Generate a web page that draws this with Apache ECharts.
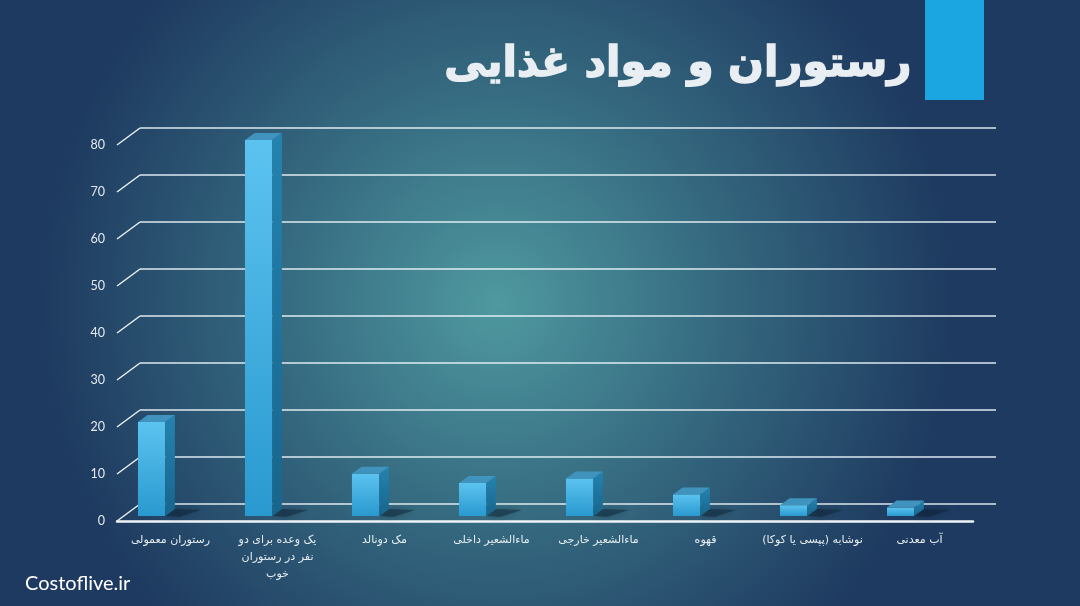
<!DOCTYPE html>
<html>
<head>
<meta charset="utf-8">
<script src="https://cdn.jsdelivr.net/npm/echarts@6/dist/echarts.min.js"></script>
<style>
html,body{margin:0;padding:0;background:#1f3d63;}
#chart{width:1080px;height:606px;}
</style>
</head>
<body>
<div id="chart" dir="rtl"></div>
<script>
const titleText = 'رستوران و مواد غذایی';
const categories = [
  'رستوران معمولی',
  'یک وعده برای دو\nنفر در رستوران\nخوب',
  'مک دونالد',
  'ماءالشعیر داخلی',
  'ماءالشعیر خارجی',
  'قهوه',
  'نوشابه (پپسی یا کوکا)',
  'آب معدنی'
];
const values = [20, 80, 9, 7, 8, 4.6, 2.3, 1.8];
const yTicks = [0, 10, 20, 30, 40, 50, 60, 70, 80];
const watermark = 'Costoflive.ir';

const chart = echarts.init(document.getElementById('chart'), null, {renderer: 'canvas'});

const barData = values.map((v, i) => [i, v]);
const tickData = yTicks.map(t => [0, t]);

const option = {
  backgroundColor: {
    type: 'radial', x: 0.46, y: 0.5, r: 0.75,
    colorStops: [
      {offset: 0, color: '#4f99a0'},
      {offset: 0.45, color: '#376d82'},
      {offset: 1, color: '#1e3a60'}
    ]
  },
  animation: false,
  title: {
    text: titleText,
    right: 162, top: 39,
    textStyle: {color: '#e9eef2', fontSize: 42, fontWeight: 'bold', fontFamily: 'DejaVu Sans',
      textBorderColor: '#e9eef2', textBorderWidth: 1.5}
  },
  graphic: [
    {type: 'rect', left: 925, top: 0, shape: {width: 59, height: 100}, style: {fill: '#1ca6e1'}},
    {type: 'text', left: 25, top: 574, style: {text: watermark, fill: '#ffffff', font: '20px Lato'}}
  ],
  grid: [
    {left: 140, right: 84, top: 128, bottom: 102},
    {left: 117, right: 107, top: 145, bottom: 85}
  ],
  xAxis: [
    {type: 'category', gridIndex: 0, data: categories, show: false},
    {type: 'category', gridIndex: 1, data: categories,
      axisLine: {lineStyle: {color: '#eef4f7', width: 2.5}},
      axisTick: {show: false},
      axisLabel: {color: '#e6edf1', fontSize: 11, fontFamily: 'DejaVu Sans', margin: 11, lineHeight: 17, interval: 0}
    }
  ],
  yAxis: [
    {type: 'value', gridIndex: 0, min: 0, max: 80, interval: 10,
      axisLabel: {show: false}, axisLine: {show: false}, axisTick: {show: false},
      splitLine: {lineStyle: {color: 'rgba(240,248,252,0.9)', width: 1.6}}
    },
    {type: 'value', gridIndex: 1, min: 0, max: 80, interval: 10,
      axisLabel: {color: '#e3ebf0', fontSize: 12.5, fontFamily: 'Lato', margin: 12},
      axisLine: {show: false}, axisTick: {show: false}, splitLine: {show: false}
    }
  ],
  series: [
    {
      type: 'custom', xAxisIndex: 1, yAxisIndex: 1, data: tickData, silent: true, z: 3,
      renderItem: function (params, api) {
        const c = api.coord([0, api.value(1)]);
        const bw = api.size([1, 0])[0];
        const x = c[0] - bw / 2;
        return {type: 'line', shape: {x1: x, y1: c[1], x2: x + 23, y2: c[1] - 17},
          style: {stroke: '#eef4f7', lineWidth: 1.4}};
      }
    },
    {
      type: 'custom', xAxisIndex: 1, yAxisIndex: 1, data: barData, z: 5,
      renderItem: function (params, api) {
        const i = api.value(0), v = api.value(1);
        const c0 = api.coord([i, 0]);
        const c1 = api.coord([i, v]);
        const bw = api.size([1, 0])[0];
        const x0 = c0[0] - 0.304 * bw;
        const w = 0.255 * bw;
        const yb = c0[1] - 5;
        const yt = c1[1] - 5;
        const dx = 0.09 * bw, dy = -7;
        const x1 = x0 + w;
        return {
          type: 'group',
          children: [
            {type: 'polygon', shape: {points: [[x1, yb], [x1 + dx, yb + dy], [x1 + dx + 26, yb + dy + 1], [x1 + 14, yb + 1]]},
              style: {fill: 'rgba(12,30,48,0.45)', shadowBlur: 6, shadowColor: 'rgba(10,25,40,0.6)'}},
            {type: 'rect', shape: {x: x0, y: yt, width: w, height: yb - yt},
              style: {fill: new echarts.graphic.LinearGradient(0, 0, 0, 1, [
                {offset: 0, color: '#5cc3f0'}, {offset: 1, color: '#2999cf'}])}},
            {type: 'polygon', shape: {points: [[x1, yb], [x1 + dx, yb + dy], [x1 + dx, yt + dy], [x1, yt]]},
              style: {fill: new echarts.graphic.LinearGradient(0, 0, 0, 1, [
                {offset: 0, color: '#2483b0'}, {offset: 1, color: '#17658c'}])}},
            {type: 'polygon', shape: {points: [[x0, yt], [x0 + dx, yt + dy], [x1 + dx, yt + dy], [x1, yt]]},
              style: {fill: '#3f93bd'}}
          ]
        };
      }
    }
  ]
};
chart.setOption(option);
</script>
</body>
</html>
